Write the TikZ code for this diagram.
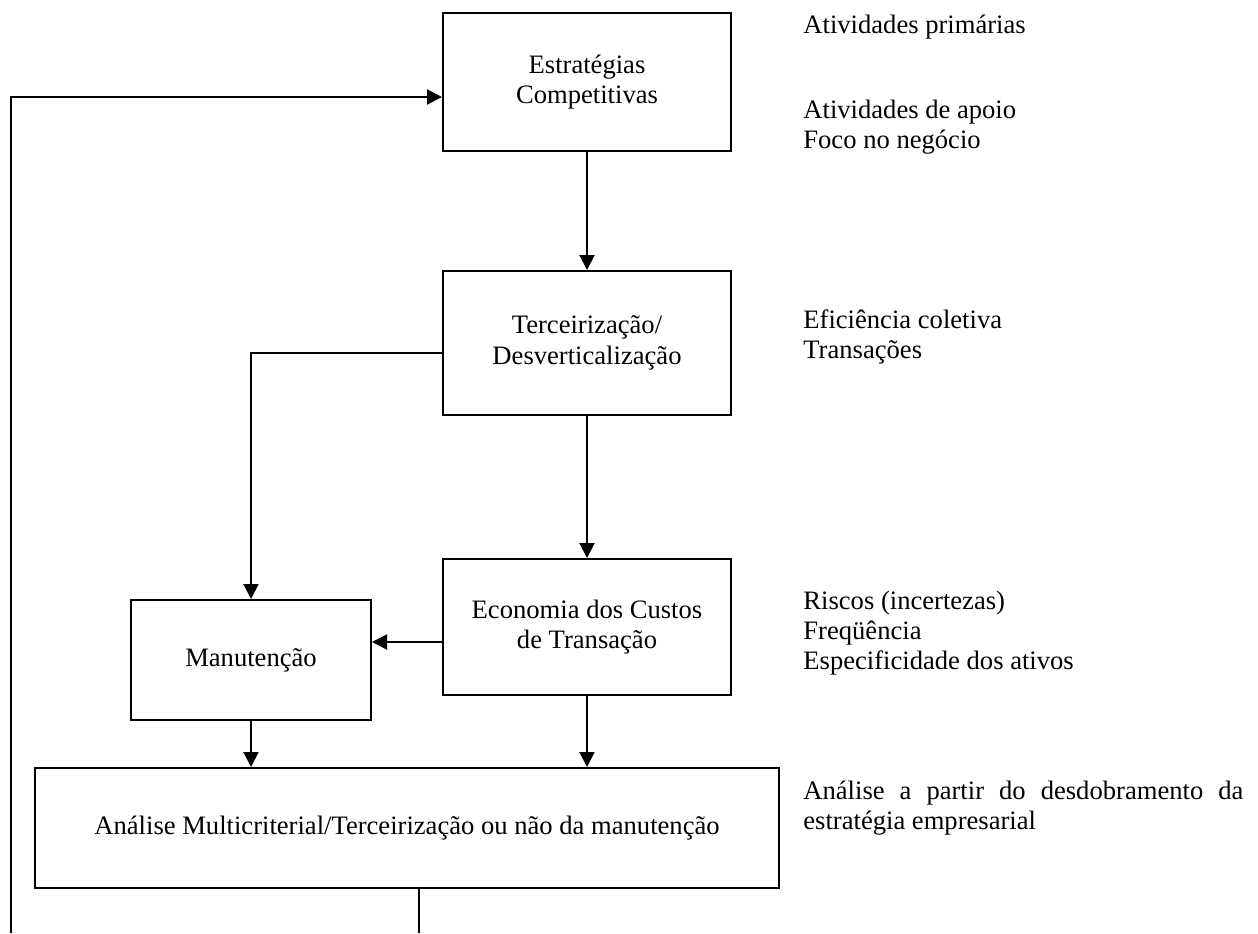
\documentclass[tikz,border=0pt]{standalone}
\usepackage{fontspec}
\setmainfont{Liberation Serif}
\usetikzlibrary{arrows.meta,calc}

\begin{document}
\begin{tikzpicture}[
  x=0.5pt, y=-0.5pt,
  every node/.style={font=\fontsize{13.3}{15.2}\selectfont, inner sep=0pt},
  block/.style={draw, line width=1pt, align=center},
  note/.style={anchor=west, align=left},
  link/.style={line width=1pt},
  arr/.style={link, -{Triangle[length=7.5pt,width=7.5pt]}}
]
\useasboundingbox (0,0) rectangle (1258,933);

% process boxes
\node[block, minimum width=144pt, minimum height=69pt] (e1) at (587,82)
  {Estratégias\\Competitivas};
\node[block, minimum width=144pt, minimum height=72pt] (t2) at (587,343)
  {Terceirização/\\Desverticalização};
\node[block, minimum width=144pt, minimum height=68pt] (ec) at (587,627)
  {Economia dos Custos\\de Transação};
\node[block, minimum width=120pt, minimum height=60pt] (m) at (251,660)
  {Manutenção};
\node[block, minimum width=372pt, minimum height=60pt] (ana) at (407,828)
  {Análise Multicriterial/Terceirização ou não da manutenção};

% side notes
\node[note] (n1) at (803,27) {Atividades primárias};
\node[note] (n2) at (803,127) {Atividades de apoio\\Foco no negócio};
\node[note] (n3) at (803,337) {Eficiência coletiva\\Transações};
\node[note] (n4) at (803,633) {Riscos (incertezas)\\Freqüência\\Especificidade dos ativos};
\node[note] (n5) at (803,808)
  {\makebox[220pt][s]{Análise a partir do desdobramento da}\\estratégia empresarial};

% branch points on the box sides
\coordinate (t2out) at ($(t2.west)+(0,10)$);
\coordinate (ecout) at ($(ec.west)+(0,15)$);

% main flow
\draw[arr] (e1) -- (t2);
\draw[arr] (t2) -- (ec);
\draw[arr] (t2out) -| (m.north);
\draw[arr] (ecout) -- (ecout -| m.east);
\draw[arr] (m.south) -- (m.south |- ana.north);
\draw[arr] (ec.south) -- (ec.south |- ana.north);

% feedback loop
\coordinate (fbr) at (419,933);
\coordinate (fbl) at (11,933);
\coordinate (fbt) at (11,97);
\draw[link] (ana.south -| fbr) -- (fbr);
\draw[arr] (fbl) -- (fbt) -- (fbt -| e1.west);
\end{tikzpicture}
\end{document}
